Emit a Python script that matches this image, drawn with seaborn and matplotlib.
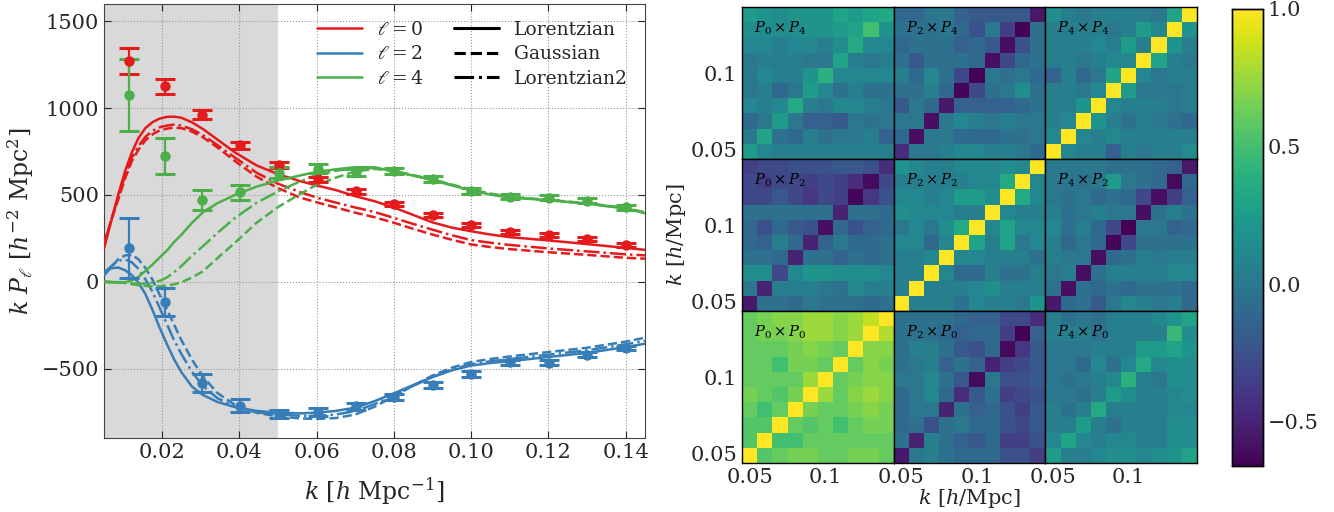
import numpy as np
import matplotlib
matplotlib.use("Agg")
import matplotlib.pyplot as plt
from matplotlib.lines import Line2D
import seaborn as sns

# ---------------- measured multipoles ----------------
k_data = [0.0115, 0.0207, 0.0304, 0.0403, 0.0503, 0.0603, 0.0702,
          0.0801, 0.0901, 0.1001, 0.1101, 0.1201, 0.1301, 0.1401]
kP0_data = [1270, 1125, 962, 785, 675, 590, 520, 447, 385, 327, 285, 268, 245, 212]
kP0_err = [75, 43, 27, 19, 17, 14, 13, 12, 11, 11, 11, 11, 11, 11]
kP2_data = [195, -116, -582, -713, -762, -752, -718, -662, -593, -530, -463, -467, -421, -381]
kP2_err = [172, 79, 53, 35, 25, 22, 22, 18, 17, 16, 15, 14, 14, 13]
kP4_data = [1076, 725, 471, 515, 628, 650, 630, 637, 593, 523, 489, 483, 466, 430]
kP4_err = [205, 103, 58, 42, 32, 26, 22, 17, 16, 15, 14, 14, 14, 14]

# ---------------- model curves ----------------
k_model = [0.005, 0.0069, 0.0087, 0.0105, 0.0122, 0.0139, 0.0157, 0.0176, 0.0194,
           0.0213, 0.0231, 0.025, 0.0278, 0.0306, 0.0343, 0.0389, 0.0445, 0.05,
           0.0557, 0.06, 0.065, 0.07, 0.075, 0.08, 0.085, 0.09, 0.095, 0.10,
           0.105, 0.11, 0.12, 0.13, 0.14, 0.145]

P0_lor = [190, 352, 504, 640, 745, 827, 885, 920, 940, 950, 951, 945, 918, 880, 820,
          745, 670, 620, 580, 555, 528, 493, 464, 428, 385, 342, 312, 291, 272, 257,
          238, 217, 195, 184]
P0_gau = [225, 355, 475, 598, 695, 760, 815, 850, 872, 882, 888, 885, 865, 832, 775,
          695, 605, 540, 485, 458, 428, 398, 372, 340, 305, 272, 242, 215, 200, 188,
          170, 155, 138, 133]
P0_lor2 = [215, 360, 490, 615, 715, 780, 835, 870, 890, 900, 905, 900, 878, 845, 788,
           715, 628, 565, 517, 485, 456, 428, 402, 368, 333, 300, 268, 240, 225, 212,
           192, 175, 158, 152]

P2_lor = [57, 78, 82, 66, 38, -5, -70, -165, -265, -360, -445, -520, -605, -652,
          -692, -722, -744, -754, -758, -754, -744, -725, -688, -643, -595, -550,
          -510, -483, -468, -458, -433, -410, -376, -357]
P2_gau = [35, 85, 130, 152, 155, 130, 80, 10, -75, -160, -245, -335, -450, -545,
          -640, -710, -755, -775, -787, -790, -785, -765, -720, -660, -598, -540,
          -495, -462, -445, -430, -405, -380, -345, -322]
P2_lor2 = [50, 90, 122, 128, 112, 75, 15, -60, -150, -245, -335, -415, -520, -600,
           -670, -720, -752, -765, -772, -772, -765, -745, -705, -655, -600, -548,
           -505, -475, -458, -445, -420, -395, -360, -340]

P4_lor = [0, -3, -5, -3, 8, 28, 62, 100, 140, 180, 228, 270, 340, 400, 452, 500,
          548, 583, 612, 633, 648, 660, 660, 635, 612, 585, 555, 527, 502, 485, 470,
          450, 422, 395]
P4_gau = [0, -1, -2, -7, -13, -20, -24, -26, -26, -22, -15, -3, 25, 60, 135, 225,
          340, 430, 505, 558, 600, 635, 650, 640, 614, 590, 560, 532, 508, 490, 472,
          452, 426, 400]
P4_lor2 = [0, -2, -3, -6, -10, -12, -10, -5, 5, 25, 55, 90, 150, 205, 280, 368,
           455, 520, 578, 615, 640, 653, 655, 637, 612, 587, 558, 530, 505, 487, 470,
           450, 423, 397]

# ---------------- correlation-matrix blocks (rows listed from high k to low k) ----------------
corr_P0_P4 = [
    [0.25, 0.20, 0.15, 0.20, 0.20, 0.20, 0.30, 0.25, 0.30, 0.35],
    [0.15, 0.15, 0.15, 0.15, 0.20, 0.20, 0.25, 0.30, 0.50, 0.20],
    [0.10, 0.10, 0.05, 0.10, 0.10, 0.05, 0.15, 0.35, 0.10, 0.10],
    [0.00, 0.05, 0.05, 0.05, 0.00, 0.00, 0.30, 0.05, 0.00, 0.05],
    [0.00, 0.10, 0.05, 0.05, 0.20, 0.40, 0.10, 0.10, 0.10, 0.10],
    [0.00, 0.05, -0.10, 0.00, 0.25, 0.10, -0.05, 0.05, -0.05, -0.05],
    [0.10, 0.05, 0.10, 0.35, 0.05, 0.00, 0.10, 0.10, 0.05, 0.00],
    [-0.10, 0.00, 0.25, 0.00, -0.15, -0.15, -0.20, 0.00, -0.05, 0.00],
    [0.00, 0.30, -0.05, -0.10, 0.05, -0.05, 0.00, 0.00, 0.05, -0.15],
    [0.25, 0.10, 0.05, 0.05, 0.05, 0.05, 0.05, 0.05, 0.05, 0.05],
]
corr_P2_P4 = [
    [-0.10, -0.10, 0.00, 0.00, -0.15, -0.20, -0.20, -0.20, -0.20, -0.55],
    [-0.05, -0.05, -0.05, 0.00, -0.10, -0.25, 0.00, -0.35, -0.66, -0.05],
    [-0.10, -0.05, -0.05, -0.05, -0.15, -0.10, -0.20, -0.60, -0.25, -0.05],
    [-0.05, -0.20, -0.05, -0.05, -0.05, -0.10, -0.60, -0.30, -0.10, -0.05],
    [0.05, -0.10, 0.10, -0.05, -0.30, -0.65, 0.00, -0.05, 0.00, -0.10],
    [-0.05, -0.05, 0.05, -0.10, -0.64, -0.30, -0.05, 0.00, 0.15, -0.05],
    [-0.20, 0.00, -0.10, -0.55, -0.15, -0.15, -0.15, -0.15, -0.10, -0.05],
    [0.00, 0.00, -0.60, 0.00, 0.10, 0.05, 0.00, 0.05, 0.00, 0.00],
    [-0.10, -0.60, 0.00, 0.00, -0.10, -0.10, -0.10, -0.05, -0.05, 0.00],
    [-0.45, 0.00, 0.00, 0.05, 0.10, 0.10, 0.05, 0.05, 0.00, -0.10],
]
corr_P4_P4 = [
    [0.15, 0.05, 0.00, 0.05, 0.05, 0.05, 0.05, 0.00, 0.30, 1.00],
    [0.05, 0.05, 0.05, 0.05, 0.00, 0.05, 0.25, 0.10, 1.00, 0.20],
    [0.05, 0.05, 0.05, 0.10, 0.05, 0.25, 0.05, 1.00, 0.20, 0.05],
    [0.05, 0.05, 0.00, 0.05, 0.10, 0.10, 1.00, 0.30, 0.05, 0.00],
    [-0.15, 0.05, -0.10, 0.00, 0.30, 1.00, 0.10, 0.00, 0.05, 0.05],
    [0.05, 0.05, 0.00, 0.10, 1.00, 0.25, 0.00, 0.00, 0.00, 0.05],
    [0.05, 0.05, 0.20, 1.00, 0.10, 0.05, 0.05, 0.05, 0.00, 0.05],
    [0.05, 0.10, 1.00, 0.20, 0.05, -0.05, 0.05, 0.00, -0.05, -0.10],
    [0.10, 1.00, 0.10, 0.05, 0.10, 0.05, 0.05, 0.05, 0.05, 0.05],
    [1.00, 0.10, 0.05, 0.05, -0.15, 0.05, 0.00, 0.05, 0.05, 0.15],
]
corr_P0_P2 = [
    [-0.35, -0.30, -0.30, -0.25, -0.25, -0.25, -0.20, -0.20, -0.25, -0.45],
    [-0.30, -0.35, -0.30, -0.30, -0.35, -0.30, -0.35, -0.45, -0.62, -0.30],
    [-0.30, -0.30, -0.20, -0.30, -0.40, -0.30, -0.35, -0.64, -0.40, -0.25],
    [-0.05, -0.05, -0.05, -0.05, -0.05, -0.05, -0.50, -0.05, -0.05, -0.10],
    [-0.10, -0.25, -0.10, -0.20, -0.25, -0.60, -0.10, -0.25, -0.15, -0.10],
    [-0.10, -0.15, 0.05, -0.10, -0.50, -0.15, 0.00, -0.10, -0.10, -0.05],
    [-0.05, -0.05, -0.10, -0.50, -0.05, -0.05, -0.15, -0.05, -0.10, -0.05],
    [0.15, 0.15, -0.30, 0.10, 0.20, 0.20, 0.15, 0.15, 0.15, 0.10],
    [0.00, -0.50, 0.05, 0.05, 0.05, 0.00, -0.05, 0.10, 0.05, 0.05],
    [-0.55, -0.05, -0.05, -0.10, 0.00, -0.05, -0.05, -0.05, -0.10, -0.05],
]
corr_P2_P2 = [
    [0.20, 0.10, 0.05, 0.05, 0.10, 0.10, 0.10, 0.15, 0.10, 1.00],
    [0.05, 0.05, 0.05, 0.05, 0.05, 0.10, 0.10, 0.35, 1.00, 0.10],
    [0.10, 0.10, 0.05, 0.10, 0.25, 0.25, 0.15, 1.00, 0.35, 0.10],
    [0.15, 0.10, 0.10, 0.10, 0.05, 0.05, 1.00, 0.10, 0.05, 0.05],
    [0.00, 0.10, 0.00, 0.15, 0.35, 1.00, 0.10, 0.30, 0.10, 0.10],
    [0.10, 0.10, -0.10, 0.10, 1.00, 0.30, 0.05, 0.30, 0.00, 0.10],
    [0.05, 0.05, 0.10, 1.00, 0.10, 0.10, 0.05, 0.05, 0.05, -0.05],
    [0.05, 0.05, 1.00, 0.10, -0.10, -0.10, 0.05, -0.05, -0.05, 0.05],
    [0.05, 1.00, 0.05, 0.05, 0.05, 0.10, 0.15, 0.05, 0.05, 0.05],
    [1.00, 0.05, 0.05, 0.05, -0.05, 0.10, 0.05, 0.05, 0.00, 0.20],
]
corr_P4_P2 = [
    [0.00, 0.00, 0.00, 0.00, -0.05, -0.05, -0.05, -0.10, -0.15, -0.55],
    [0.00, 0.00, -0.05, 0.00, 0.25, 0.00, -0.05, -0.10, -0.62, -0.10],
    [0.00, -0.05, 0.00, -0.10, -0.05, -0.10, -0.30, -0.60, -0.35, -0.15],
    [0.05, -0.05, 0.00, 0.05, 0.00, 0.00, -0.60, -0.05, 0.05, -0.05],
    [0.10, -0.05, 0.05, -0.10, -0.30, -0.65, 0.00, 0.00, -0.15, -0.10],
    [0.05, -0.10, 0.00, -0.10, -0.64, -0.30, -0.05, -0.05, -0.05, -0.05],
    [0.05, 0.00, 0.00, -0.60, -0.10, -0.05, 0.05, 0.00, 0.05, 0.05],
    [0.00, 0.05, -0.60, -0.05, 0.05, 0.05, 0.05, 0.05, 0.10, 0.10],
    [-0.05, -0.60, -0.05, -0.10, -0.05, -0.10, -0.05, -0.05, -0.05, -0.10],
    [-0.55, -0.10, -0.05, -0.20, 0.00, 0.10, 0.05, 0.00, 0.05, -0.10],
]
corr_P0_P0 = [
    [0.60, 0.65, 0.70, 0.70, 0.75, 0.75, 0.70, 0.75, 0.85, 1.00],
    [0.60, 0.65, 0.65, 0.70, 0.75, 0.75, 0.70, 0.75, 1.00, 0.80],
    [0.60, 0.60, 0.60, 0.65, 0.70, 0.65, 0.60, 1.00, 0.70, 0.70],
    [0.60, 0.60, 0.50, 0.65, 0.65, 0.60, 1.00, 0.60, 0.70, 0.65],
    [0.60, 0.60, 0.60, 0.60, 0.75, 1.00, 0.60, 0.65, 0.70, 0.70],
    [0.65, 0.60, 0.55, 0.65, 1.00, 0.75, 0.60, 0.70, 0.75, 0.70],
    [0.60, 0.50, 0.60, 1.00, 0.65, 0.60, 0.60, 0.65, 0.70, 0.65],
    [0.55, 0.55, 1.00, 0.60, 0.55, 0.60, 0.50, 0.60, 0.65, 0.65],
    [0.55, 1.00, 0.50, 0.50, 0.60, 0.60, 0.60, 0.60, 0.60, 0.60],
    [1.00, 0.55, 0.60, 0.65, 0.65, 0.60, 0.60, 0.65, 0.65, 0.60],
]
corr_P2_P0 = [
    [-0.05, -0.05, -0.05, -0.05, -0.10, -0.15, -0.15, -0.30, -0.30, -0.45],
    [-0.05, -0.05, -0.05, -0.10, -0.15, -0.10, -0.10, -0.35, -0.66, -0.15],
    [-0.05, 0.05, 0.05, -0.05, -0.20, -0.25, -0.10, -0.62, -0.40, -0.20],
    [-0.05, 0.00, 0.05, -0.15, -0.05, -0.15, -0.50, -0.35, -0.30, -0.20],
    [0.00, 0.00, 0.10, -0.05, -0.20, -0.62, 0.00, -0.25, -0.25, -0.20],
    [-0.10, 0.00, 0.10, -0.10, -0.45, -0.20, -0.05, -0.35, -0.30, -0.25],
    [-0.10, 0.00, 0.00, -0.50, -0.05, -0.15, -0.10, -0.25, -0.35, -0.20],
    [-0.10, -0.05, -0.25, -0.05, 0.00, -0.10, -0.10, -0.25, -0.30, -0.20],
    [-0.05, -0.50, 0.05, -0.05, -0.15, -0.20, -0.10, -0.35, -0.35, -0.25],
    [-0.55, 0.00, 0.05, -0.05, -0.10, -0.10, -0.10, -0.25, -0.25, -0.35],
]
corr_P4_P0 = [
    [0.05, -0.05, 0.00, -0.05, 0.05, 0.05, 0.05, 0.10, 0.20, 0.30],
    [0.05, 0.05, 0.05, -0.05, 0.05, 0.05, 0.05, 0.05, 0.45, 0.15],
    [0.00, 0.00, 0.00, 0.05, 0.05, 0.05, 0.25, 0.25, 0.30, 0.20],
    [0.00, 0.00, -0.10, 0.10, -0.05, 0.10, 0.35, 0.10, 0.15, 0.15],
    [0.00, -0.05, 0.00, 0.05, 0.10, 0.40, 0.05, 0.00, 0.15, 0.15],
    [0.00, 0.00, -0.05, 0.05, 0.25, 0.15, 0.05, 0.05, 0.10, 0.15],
    [0.05, -0.05, 0.05, 0.35, 0.05, 0.05, 0.05, 0.05, 0.10, 0.10],
    [0.05, 0.05, 0.25, 0.05, -0.05, 0.05, 0.05, 0.05, 0.15, 0.15],
    [0.10, 0.30, 0.10, 0.05, 0.10, 0.10, 0.05, 0.05, 0.15, 0.15],
    [0.25, 0.05, 0.05, 0.10, 0.15, 0.15, 0.10, 0.15, 0.20, 0.30],
]

k_tick_labels = ["0.05", "0.1"]

# ---------------- style ----------------
sns.set_style("ticks")
plt.rcParams["font.family"] = ["DejaVu Serif"]
plt.rcParams["mathtext.fontset"] = "dejavuserif"

c0, c2, c4 = "#e41a1c", "#377eb8", "#4daf4a"
W, H = 1334, 512
fig = plt.figure(figsize=(W / 100, H / 100), dpi=100)

# ---------------- left panel: multipoles ----------------
ax = fig.add_axes([104 / W, 1 - 438 / H, (645 - 104) / W, 434 / H])
ax.axvspan(0.005, 0.05, color="#d9d9d9", zorder=0, lw=0)

curves = [
    (P0_lor, c0, "-"), (P0_gau, c0, "--"), (P0_lor2, c0, "-."),
    (P2_lor, c2, "-"), (P2_gau, c2, "--"), (P2_lor2, c2, "-."),
    (P4_lor, c4, "-"), (P4_gau, c4, "--"), (P4_lor2, c4, "-."),
]
for vals, col, ls in curves:
    sns.lineplot(x=np.array(k_model), y=np.array(vals), ax=ax, color=col,
                 linestyle=ls, lw=1.8, zorder=3)

for vals, errs, col in [(kP0_data, kP0_err, c0), (kP2_data, kP2_err, c2),
                        (kP4_data, kP4_err, c4)]:
    ax.errorbar(k_data, vals, yerr=errs, fmt="o", color=col, ms=6.5,
                elinewidth=1.6, capsize=7, capthick=2.2, zorder=4)

ax.set_xlim(0.005, 0.145)
ax.set_ylim(-900, 1600)
ax.set_xticks([0.02, 0.04, 0.06, 0.08, 0.10, 0.12, 0.14])
ax.set_yticks([-500, 0, 500, 1000, 1500])
ax.grid(True, ls=":", color="#999999", lw=0.8)
ax.tick_params(direction="in", top=True, right=True, length=5, labelsize=15)
for sp in ax.spines.values():
    sp.set_color("#444444")
ax.set_xlabel(r"$k\ [h\ \mathrm{Mpc}^{-1}]$", fontsize=17, labelpad=10)
ax.set_ylabel(r"$k\ P_\ell\ [h^{-2}\ \mathrm{Mpc}^2]$", fontsize=17, labelpad=4)

handles = [
    Line2D([], [], color=c0, lw=1.8), Line2D([], [], color=c2, lw=1.8),
    Line2D([], [], color=c4, lw=1.8),
    Line2D([], [], color="k", lw=2.2, ls="-"), Line2D([], [], color="k", lw=2.2, ls="--"),
    Line2D([], [], color="k", lw=2.2, ls="-."),
]
labels = [r"$\ell=0$", r"$\ell=2$", r"$\ell=4$", "Lorentzian", "Gaussian", "Lorentzian2"]
ax.legend(handles, labels, ncol=2, frameon=False, fontsize=13.5, loc="upper right",
          bbox_to_anchor=(1.0, 1.0), handlelength=2.4, columnspacing=1.6,
          labelspacing=0.35)

# ---------------- right panel: correlation blocks ----------------
grid_rows = [
    [("0", "4", corr_P0_P4), ("2", "4", corr_P2_P4), ("4", "4", corr_P4_P4)],
    [("0", "2", corr_P0_P2), ("2", "2", corr_P2_P2), ("4", "2", corr_P4_P2)],
    [("0", "0", corr_P0_P0), ("2", "0", corr_P2_P0), ("4", "0", corr_P4_P0)],
]
x0, x1, y0, y1 = 742, 1197, 7, 463
bw, bh = (x1 - x0) / 3, (y1 - y0) / 3
cax = fig.add_axes([1232 / W, 1 - 466 / H, 31 / W, 457 / H])
vmin, vmax = -0.66, 1.0

for r, row in enumerate(grid_rows):
    for c, (lx, ly, block) in enumerate(row):
        bax = fig.add_axes([(x0 + c * bw) / W, 1 - (y0 + (r + 1) * bh) / H, bw / W, bh / H])
        first = (r == 0 and c == 0)
        sns.heatmap(np.array(block), ax=bax, cmap="viridis", vmin=vmin, vmax=vmax,
                    cbar=first, cbar_ax=cax if first else None, square=False)
        for sp in bax.spines.values():
            sp.set_visible(True)
            sp.set_color("black")
            sp.set_linewidth(1.0)
        bax.set_xticks([0.5, 5.5])
        bax.set_yticks([9.5, 4.5])
        bax.tick_params(direction="in", top=True, right=True, length=4,
                        labelsize=15, color="black")
        if r == 2:
            bax.set_xticklabels(k_tick_labels, rotation=0)
        else:
            bax.set_xticklabels([])
        if c == 0:
            bax.set_yticklabels(k_tick_labels, rotation=0)
        else:
            bax.set_yticklabels([])
        bax.set_xlabel("")
        bax.set_ylabel("")
        bax.text(0.08, 0.86, rf"$P_{lx}\times P_{ly}$", transform=bax.transAxes,
                 fontsize=10.5, va="center", ha="left", color="black")
        if r == 2 and c == 1:
            bax.set_xlabel(r"$k\ [h/\mathrm{Mpc}]$", fontsize=15, labelpad=0)
        if r == 1 and c == 0:
            bax.set_ylabel(r"$k\ [h/\mathrm{Mpc}]$", fontsize=15, labelpad=2)

cax.set_yticks([-0.5, 0.0, 0.5, 1.0])
cax.set_yticklabels(["\u22120.5", "0.0", "0.5", "1.0"])
cax.tick_params(direction="in", labelsize=15, length=4)
for sp in cax.spines.values():
    sp.set_visible(True)
    sp.set_color("black")
    sp.set_linewidth(1.0)

fig.savefig("out.png", dpi=100)
